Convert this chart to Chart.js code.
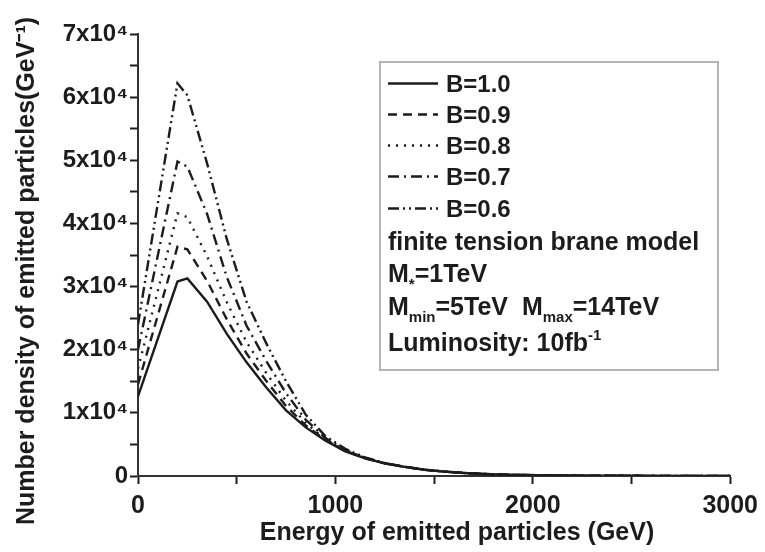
<!DOCTYPE html>
<html><head><meta charset="utf-8">
<script src="https://cdn.jsdelivr.net/npm/chart.js@4"></script>
<style>html,body{margin:0;padding:0;background:#fff}canvas{display:block}</style>
</head><body>
<canvas id="c" width="765" height="552"></canvas>
<script>
// ---- data ----
const energies = [0, 200, 250, 350, 450, 550, 650, 750, 850, 950, 1050, 1150, 1250, 1350, 1450, 1550, 1650, 1750, 1850, 1950, 2100, 2300, 2500, 2700, 2900, 3000];
const seriesNames = ['B=1.0', 'B=0.9', 'B=0.8', 'B=0.7', 'B=0.6'];
const b10 = [12600, 30800, 31300, 27600, 22500, 18000, 14000, 10400, 7700, 5600, 3900, 2800, 2000, 1450, 1000, 700, 480, 320, 220, 150, 90, 50, 30, 20, 10, 10];
const b09 = [14500, 36300, 35900, 30900, 24800, 19400, 15050, 11100, 8000, 5700, 3960, 2820, 2000, 1450, 1000, 700, 480, 320, 220, 150, 90, 50, 30, 20, 10, 10];
const b08 = [17000, 41600, 41000, 34800, 27500, 21200, 16300, 11900, 8400, 5800, 4030, 2850, 2010, 1460, 1000, 700, 480, 320, 220, 150, 90, 50, 30, 20, 10, 10];
const b07 = [20000, 49800, 49000, 41500, 31500, 23800, 18200, 13100, 8900, 6000, 4130, 2880, 2020, 1460, 1010, 700, 480, 320, 220, 150, 90, 50, 30, 20, 10, 10];
const b06 = [24000, 62200, 60300, 49500, 37500, 27600, 21000, 15000, 9700, 6300, 4300, 2950, 2050, 1470, 1010, 710, 480, 320, 220, 150, 90, 50, 30, 20, 10, 10];
const xTickLabels = ['0', '', '1000', '', '2000', '', '3000'];
const yTickLabels = ['0', '', '1x10\u2074', '', '2x10\u2074', '', '3x10\u2074', '', '4x10\u2074', '', '5x10\u2074', '', '6x10\u2074', '', '7x10\u2074'];
const xTitle = 'Energy of emitted particles (GeV)';
const yTitle = 'Number density of emitted particles(GeV\u207B\u00B9)';
const legendNotes = [
  [['finite tension brane model', '']],
  [['M', ''], ['*', 'sub'], ['=1TeV', '']],
  [['M', ''], ['min', 'sub'], ['=5TeV  M', ''], ['max', 'sub'], ['=14TeV', '']],
  [['Luminosity: 10fb', ''], ['-1', 'sup']]
];

// ---- styling ----
const FONT = "'Liberation Sans', Arial, sans-serif";
const INK = '#1c1c1c';
const dashes = [[], [9, 6], [2, 6], [11, 5, 2, 5], [11, 4, 2, 4, 2, 4]];
const seriesData = [b10, b09, b08, b07, b06];

const datasets = seriesData.map((arr, i) => ({
  label: seriesNames[i],
  data: energies.map((e, j) => ({x: e, y: arr[j]})),
  borderColor: INK,
  borderWidth: 2.4,
  borderDash: dashes[i],
  pointRadius: 0,
  tension: 0,
  fill: false
}));

const decorPlugin = {
  id: 'decor',
  afterDraw(chart) {
    const ctx = chart.ctx;
    ctx.save();
    // axis titles
    ctx.fillStyle = INK;
    ctx.font = 'bold 25px ' + FONT;
    ctx.textAlign = 'center';
    ctx.textBaseline = 'middle';
    ctx.fillText(xTitle, 457, 533);
    ctx.save();
    ctx.translate(27, 271);
    ctx.rotate(-Math.PI / 2);
    ctx.fillText(yTitle, 0, 0);
    ctx.restore();
    ctx.textAlign = 'left';
    // legend box
    ctx.strokeStyle = '#b4b4b4';
    ctx.lineWidth = 2;
    ctx.strokeRect(380, 62, 338, 308);
    ctx.strokeStyle = INK;
    ctx.textBaseline = 'alphabetic';
    const baseSeries = [92, 123, 154, 185, 217];
    seriesNames.forEach((name, i) => {
      const y = baseSeries[i] - 8.5;
      ctx.save();
      ctx.lineWidth = 2.4;
      ctx.setLineDash(dashes[i]);
      ctx.beginPath(); ctx.moveTo(388, y); ctx.lineTo(438, y); ctx.stroke();
      ctx.restore();
      ctx.font = 'bold 24px ' + FONT;
      ctx.fillText(name, 446, baseSeries[i]);
    });
    const baseNotes = [250, 282, 315, 351];
    legendNotes.forEach((segs, i) => {
      let x = 388;
      segs.forEach(([t, kind]) => {
        let dy = 0;
        if (kind === 'sub') { ctx.font = 'bold 15px ' + FONT; dy = 7; }
        else if (kind === 'sup') { ctx.font = 'bold 15px ' + FONT; dy = -11; }
        else ctx.font = 'bold 25px ' + FONT;
        ctx.fillText(t, x, baseNotes[i] + dy);
        x += ctx.measureText(t).width;
      });
    });
    ctx.restore();
  }
};

new Chart(document.getElementById('c'), {
  type: 'line',
  data: {datasets},
  options: {
    responsive: false,
    animation: false,
    layout: {padding: {left: 0, right: 32, top: 34, bottom: 0}},
    plugins: {legend: {display: false}, tooltip: {enabled: false}},
    scales: {
      x: {
        type: 'linear', min: 0, max: 3000,
        afterFit: s => { s.height = 76; },
        ticks: {stepSize: 500, autoSkip: false, maxRotation: 0, padding: 7, color: INK,
          font: {family: FONT, size: 25, weight: 'bold'},
          callback: (v, i) => xTickLabels[i]},
        grid: {drawOnChartArea: false, drawTicks: true, tickLength: 8, tickColor: INK, tickWidth: 2},
        border: {display: true, color: '#333', width: 2},
        title: {display: false}
      },
      y: {
        type: 'linear', min: 0, max: 70000,
        afterFit: s => { s.width = 138; },
        ticks: {stepSize: 5000, autoSkip: false, padding: 2, color: INK,
          font: {family: FONT, size: 24, weight: 'bold'},
          callback: (v, i) => yTickLabels[i]},
        grid: {drawOnChartArea: false, drawTicks: true, tickLength: 8, tickColor: INK, tickWidth: 2},
        border: {display: true, color: '#333', width: 2},
        title: {display: false}
      }
    }
  },
  plugins: [decorPlugin]
});
</script>
</body></html>
